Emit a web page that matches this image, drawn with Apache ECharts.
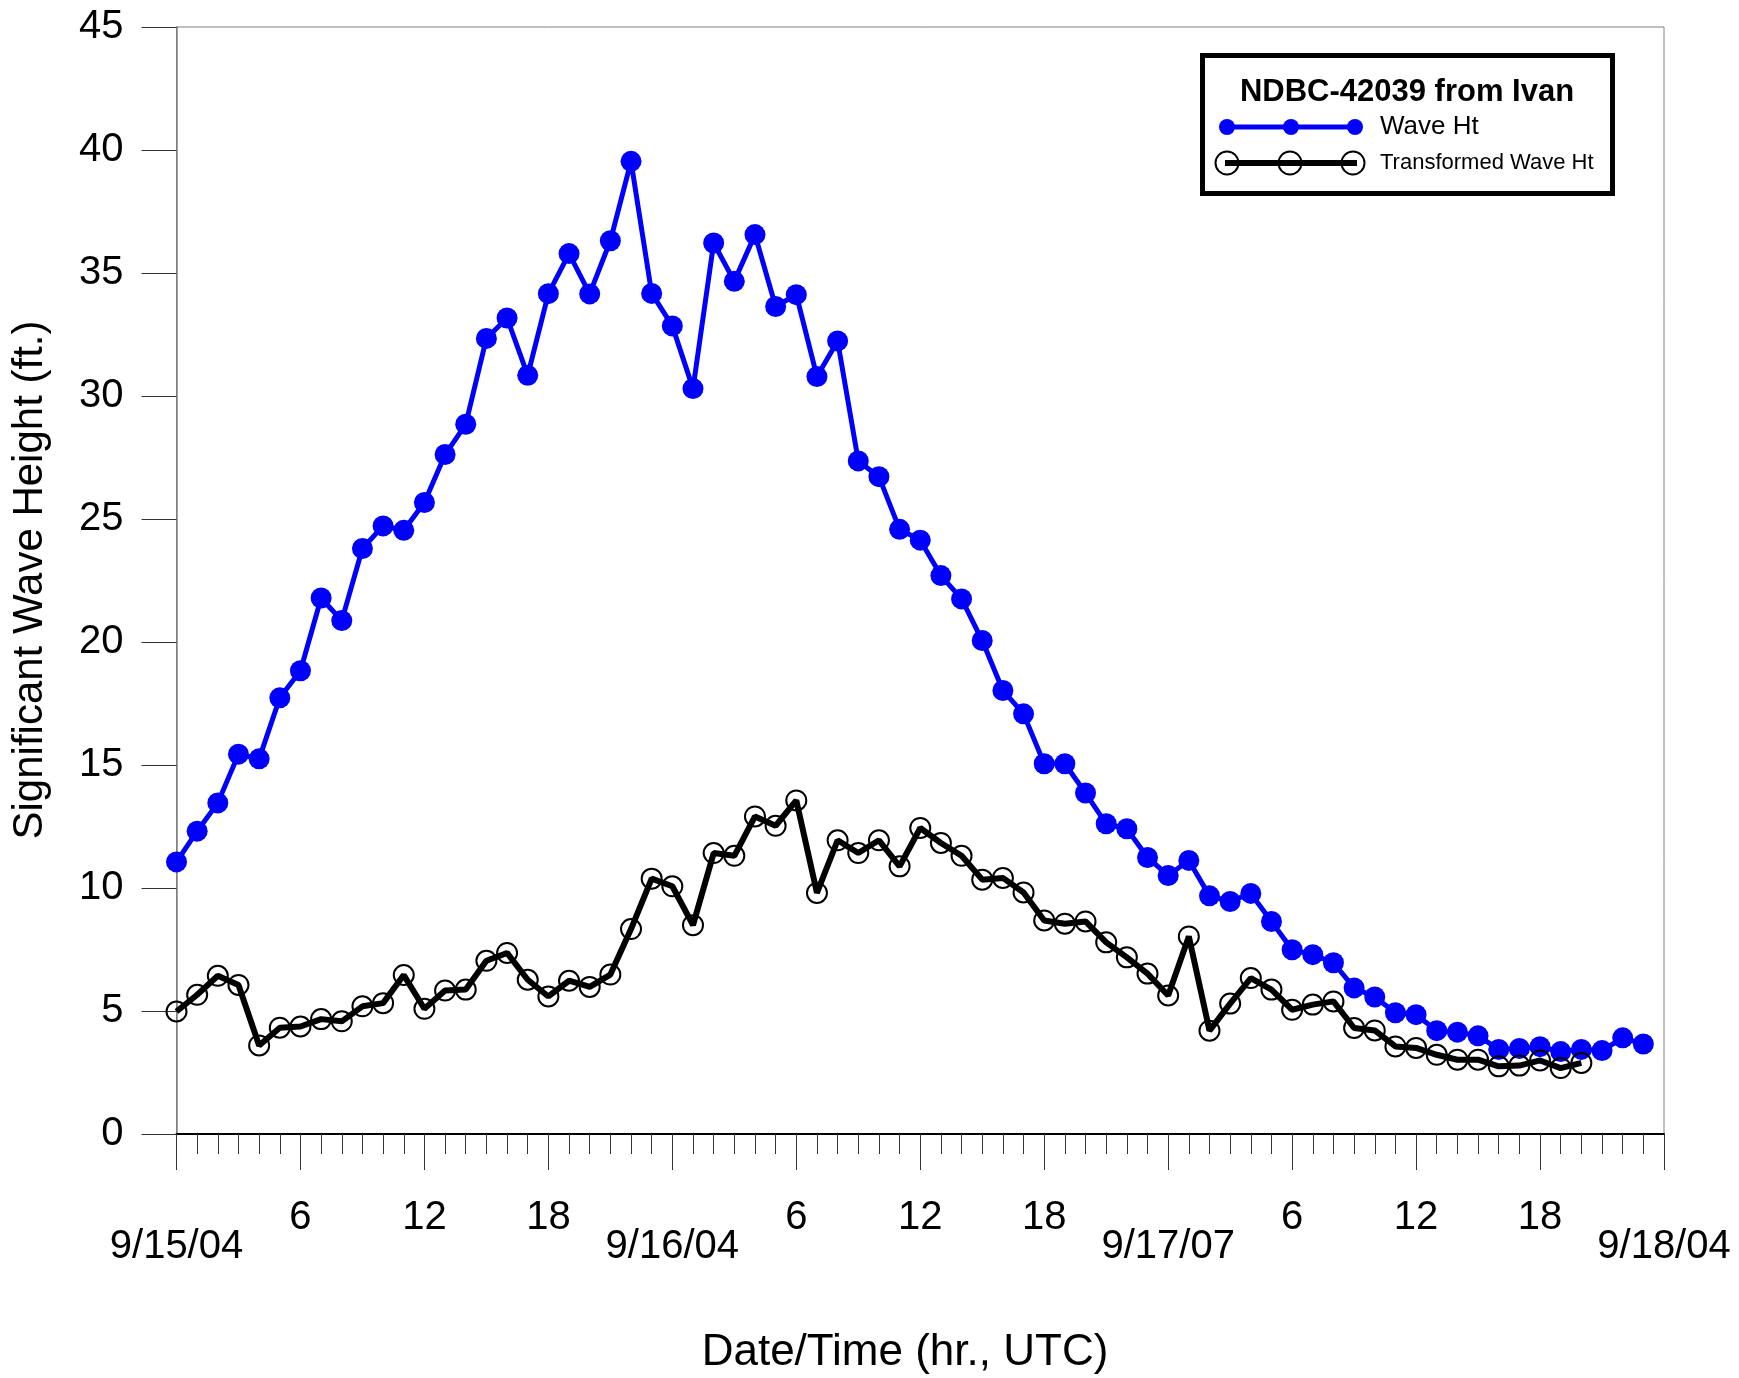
<!DOCTYPE html>
<html><head><meta charset="utf-8">
<script src="https://cdn.jsdelivr.net/npm/echarts@6/dist/echarts.min.js"></script>
<style>html,body{margin:0;padding:0;background:#fff}#c{width:1739px;height:1378px}</style>
</head><body><div id="c"></div>
<script>
// Hourly data starting 9/15/04 00 UTC
const startHour = 0;
const waveHt = [11.06,12.31,13.46,15.44,15.25,17.73,18.83,21.79,20.87,23.80,24.72,24.54,25.67,
  27.62,28.85,32.34,33.17,30.84,34.16,35.79,34.15,36.31,39.54,34.17,32.85,30.30,
  36.22,34.66,36.56,33.64,34.12,30.79,32.24,27.36,26.72,24.58,24.14,
  22.70,21.75,20.06,18.03,17.08,15.05,15.05,13.86,12.61,12.41,11.24,10.51,11.12,
  9.68,9.45,9.78,8.64,7.49,7.29,6.96,5.94,5.57,4.93,4.85,4.20,4.14,3.99,3.44,3.48,3.55,3.35,3.44,3.39,3.91,3.66];
const transformedHt = [4.98,5.66,6.43,6.06,3.60,4.32,4.37,4.67,4.58,5.19,5.32,6.46,5.09,5.83,5.87,7.04,7.36,6.27,5.59,6.23,5.98,6.48,8.33,10.38,10.07,
  8.49,11.42,11.31,12.91,12.53,13.56,9.80,11.94,11.42,11.94,10.88,12.44,11.83,11.31,10.34,10.41,9.82,8.68,8.55,8.64,7.79,7.18,6.52,5.63,
  8.03,4.20,5.30,6.34,5.87,5.05,5.26,5.39,4.31,4.21,3.56,3.50,3.22,3.02,3.02,2.75,2.78,2.99,2.68,2.89];
const dateLabels = ['9/15/04','9/16/04','9/17/07','9/18/04'];
const hourLabels = {6:'6',12:'12',18:'18'};
const legendTitle = 'NDBC-42039 from Ivan';
const seriesNames = ['Wave Ht','Transformed Wave Ht'];
const xTitle = 'Date/Time (hr., UTC)';
const yTitle = 'Significant Wave Height (ft.)';

const FONT = 'Liberation Sans, Arial, sans-serif';
const chart = echarts.init(document.getElementById('c'), null, {renderer:'canvas'});
const toPairs = arr => arr.map((v,i)=>[startHour+i, v]);

chart.setOption({
  animation:false,
  backgroundColor:'#fff',
  grid:{left:176.5, right:75, top:27, bottom:244, show:true, borderColor:'#808080', borderWidth:1},
  xAxis:[{
    type:'value', min:0, max:72, interval:1,
    axisLine:{show:true, onZero:false, lineStyle:{color:'#000', width:2}},
    axisTick:{show:true, length:20, lineStyle:{color:'#333', width:1}},
    splitLine:{show:false},
    axisLabel:{showMinLabel:true, showMaxLabel:true, margin:64, fontSize:40, fontFamily:FONT, color:'#000',
      formatter:v=> hourLabels[v%24] || ''}
  },{
    type:'value', min:0, max:72, interval:6, position:'bottom',
    axisLine:{show:false},
    axisTick:{show:true, length:36, lineStyle:{color:'#333', width:1}},
    splitLine:{show:false},
    axisLabel:{showMinLabel:true, showMaxLabel:true, margin:93, fontSize:40, fontFamily:FONT, color:'#000',
      formatter:v=> (v%24===0) ? dateLabels[v/24] : ''}
  }],
  yAxis:{
    type:'value', min:0, max:45, interval:5,
    axisLine:{show:true, lineStyle:{color:'#808080', width:1.5}},
    axisTick:{show:true, length:35, lineStyle:{color:'#333', width:1}},
    splitLine:{show:false},
    axisLabel:{margin:53, fontSize:40, fontFamily:FONT, color:'#000'}
  },
  series:[{
    name:seriesNames[0], type:'line', xAxisIndex:0, data:toPairs(waveHt),
    symbol:'circle', symbolSize:21, showAllSymbol:true,
    itemStyle:{color:'#0000ff'}, lineStyle:{color:'#0000ff', width:5},
    emphasis:{disabled:true}, z:2
  },{
    name:seriesNames[1], type:'line', xAxisIndex:0, data:toPairs(transformedHt),
    symbol:'circle', symbolSize:20, showAllSymbol:true,
    itemStyle:{color:'rgba(0,0,0,0)', borderColor:'#000', borderWidth:2},
    lineStyle:{color:'#000', width:6},
    emphasis:{disabled:true}, z:3
  }],
  graphic:[
    {type:'text', x:30, y:580, rotation:Math.PI/2,
      style:{text:yTitle, fontSize:42, fontFamily:FONT, fill:'#000', align:'center', verticalAlign:'middle'}},
    {type:'text', x:905, y:1353,
      style:{text:xTitle, fontSize:44, fontFamily:FONT, fill:'#000', align:'center', verticalAlign:'middle'}},
    {type:'rect', shape:{x:1202.5, y:55.5, width:410, height:138},
      style:{fill:'#fff', stroke:'#000', lineWidth:5}, z:10},
    {type:'text', x:1407, y:92, z:11,
      style:{text:legendTitle, fontSize:31, fontWeight:'bold', fontFamily:FONT, fill:'#000', align:'center', verticalAlign:'middle'}},
    {type:'line', shape:{x1:1227, y1:127, x2:1355, y2:127}, style:{stroke:'#0000ff', lineWidth:5}, z:11},
    {type:'circle', shape:{cx:1227, cy:127, r:8}, style:{fill:'#0000ff'}, z:12},
    {type:'circle', shape:{cx:1291, cy:127, r:8}, style:{fill:'#0000ff'}, z:12},
    {type:'circle', shape:{cx:1355, cy:127, r:8}, style:{fill:'#0000ff'}, z:12},
    {type:'text', x:1380, y:127, z:11,
      style:{text:seriesNames[0], fontSize:26, fontFamily:FONT, fill:'#000', align:'left', verticalAlign:'middle'}},
    {type:'line', shape:{x1:1225, y1:163, x2:1357, y2:163}, style:{stroke:'#000', lineWidth:6}, z:11},
    {type:'circle', shape:{cx:1227, cy:163, r:11.5}, style:{fill:'rgba(0,0,0,0)', stroke:'#000', lineWidth:2}, z:12},
    {type:'circle', shape:{cx:1290, cy:163, r:11.5}, style:{fill:'rgba(0,0,0,0)', stroke:'#000', lineWidth:2}, z:12},
    {type:'circle', shape:{cx:1353, cy:163, r:11.5}, style:{fill:'rgba(0,0,0,0)', stroke:'#000', lineWidth:2}, z:12},
    {type:'text', x:1380, y:163, z:11,
      style:{text:seriesNames[1], fontSize:22, fontFamily:FONT, fill:'#000', align:'left', verticalAlign:'middle'}}
  ]
});
</script>
</body></html>
